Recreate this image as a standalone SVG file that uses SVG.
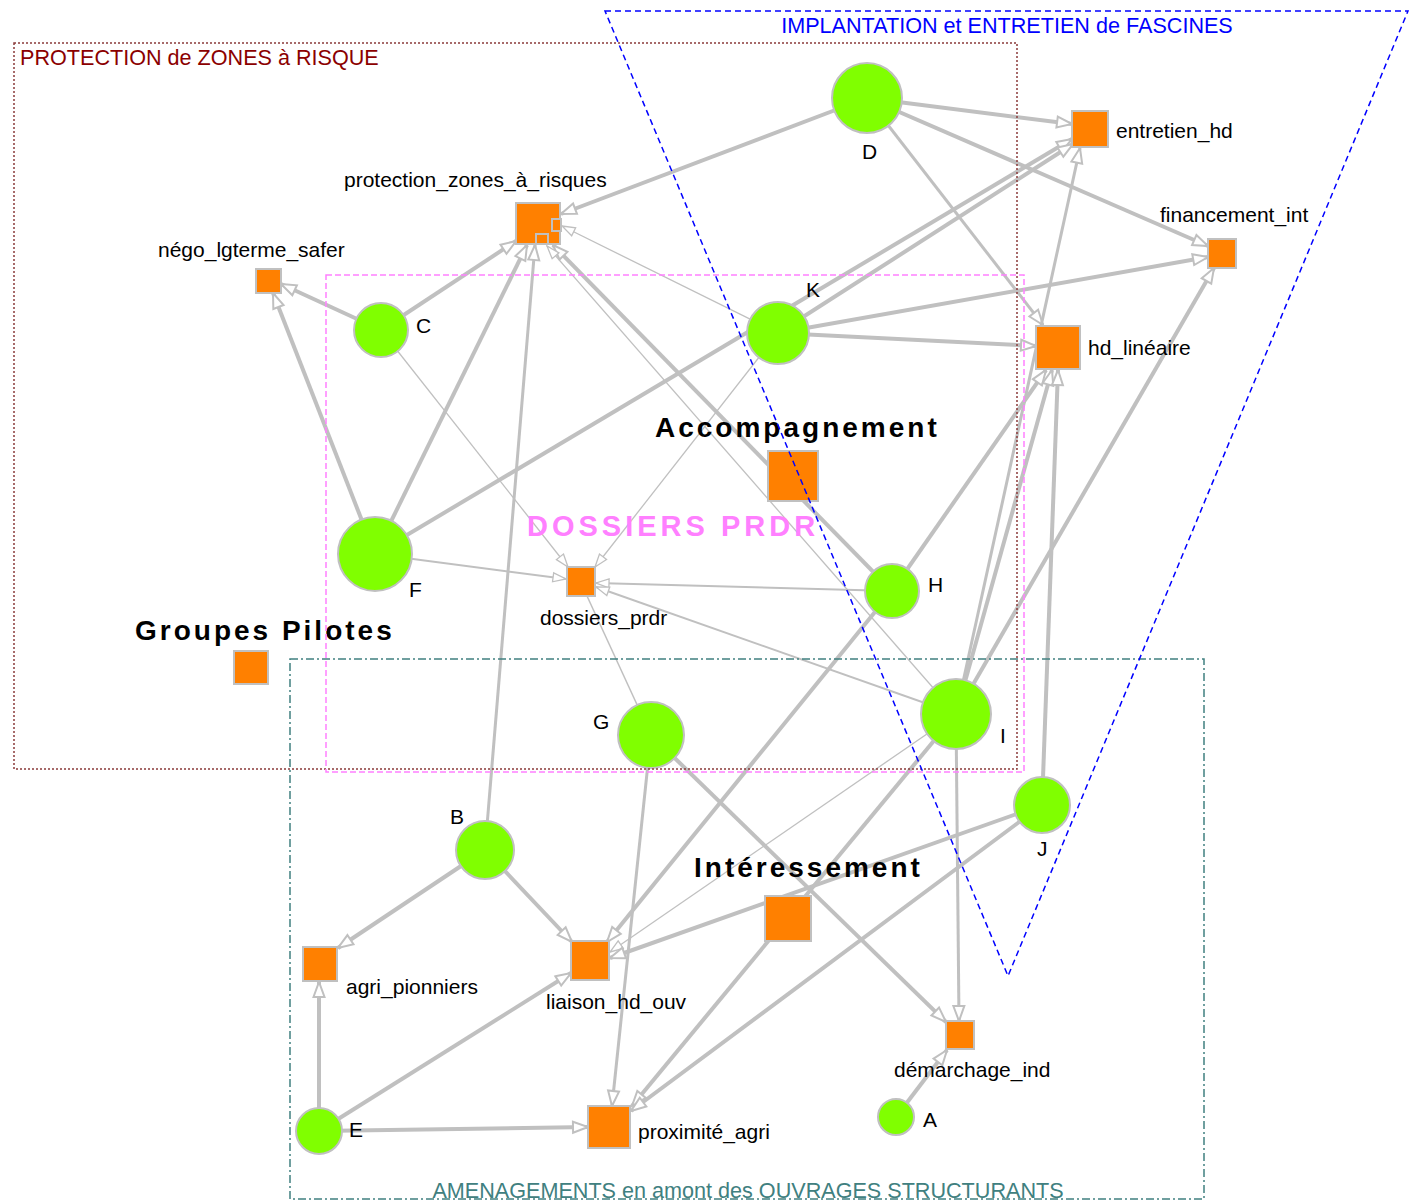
<svg xmlns="http://www.w3.org/2000/svg" width="1414" height="1201" viewBox="0 0 1414 1201">
<style>
.e{stroke:#c0c0c0;fill:none;stroke-linecap:butt}
.w4{stroke-width:4;marker-end:url(#ah)}
.w3{stroke-width:3;marker-end:url(#ah)}
.w2{stroke-width:2;marker-end:url(#at)}
.w1{stroke-width:1.3;marker-end:url(#at)}
.sq{fill:#ff8000;stroke:#c0c0c0;stroke-width:2}
.ci{fill:#80ff00;stroke:#c0c0c0;stroke-width:2}
.lb{font-family:"Liberation Sans",Arial,sans-serif;font-size:21px;fill:#000}
.big{font-family:"Liberation Sans",Arial,sans-serif;font-size:28px;font-weight:bold;letter-spacing:3px;fill:#000}
.ft{font-family:"Liberation Sans",Arial,sans-serif;font-size:21.6px}
</style>
<defs>
<marker id="ah" markerUnits="userSpaceOnUse" orient="auto" refX="0" refY="0" markerWidth="1" markerHeight="1" overflow="visible"><path d="M-15,-5.5 L0,0 L-15,5.5 Z" fill="#fff" stroke="#c0c0c0" stroke-width="2"/></marker>
<marker id="at" markerUnits="userSpaceOnUse" orient="auto" refX="0" refY="0" markerWidth="1" markerHeight="1" overflow="visible"><path d="M-13,-4.5 L0,0 L-13,4.5 Z" fill="#fff" stroke="#c0c0c0" stroke-width="1.3"/></marker>
</defs>
<rect width="1414" height="1201" fill="#fff"/>
<g id="connectors">
<line class="e w4" x1="867" y1="98" x2="561" y2="214"/>
<line class="e w4" x1="867" y1="98" x2="1072" y2="124"/>
<line class="e w4" x1="867" y1="98" x2="1208" y2="246"/>
<line class="e w3" x1="867" y1="98" x2="1043" y2="325"/>
<line class="e w4" x1="375" y1="554" x2="1072" y2="139"/>
<line class="e w4" x1="778" y1="333" x2="1073" y2="144"/>
<line class="e w4" x1="778" y1="333" x2="1208" y2="257"/>
<line class="e w4" x1="778" y1="333" x2="1036" y2="346"/>
<line class="e w1" x1="778" y1="333" x2="562" y2="226"/>
<line class="e w1" x1="778" y1="333" x2="595" y2="567"/>
<line class="e w4" x1="381" y1="330" x2="516" y2="241"/>
<line class="e w4" x1="381" y1="330" x2="281" y2="284"/>
<line class="e w1" x1="381" y1="330" x2="568" y2="567"/>
<line class="e w4" x1="375" y1="554" x2="273" y2="293"/>
<line class="e w4" x1="375" y1="554" x2="527" y2="245"/>
<line class="e w2" x1="375" y1="554" x2="566" y2="579"/>
<line class="e w3" x1="485" y1="850" x2="535" y2="245"/>
<line class="e w4" x1="892" y1="591" x2="553" y2="245"/>
<line class="e w1" x1="956" y1="714" x2="547" y2="246"/>
<line class="e w2" x1="892" y1="591" x2="596" y2="583"/>
<line class="e w4" x1="892" y1="591" x2="1046" y2="370"/>
<line class="e w4" x1="892" y1="591" x2="607" y2="942"/>
<line class="e w2" x1="956" y1="714" x2="596" y2="587"/>
<line class="e w4" x1="956" y1="714" x2="1052" y2="370"/>
<line class="e w3" x1="956" y1="714" x2="1080" y2="148"/>
<line class="e w4" x1="956" y1="714" x2="1214" y2="268"/>
<line class="e w3" x1="956" y1="714" x2="959" y2="1021"/>
<line class="e w1" x1="956" y1="714" x2="610" y2="952"/>
<line class="e w4" x1="956" y1="714" x2="632" y2="1106"/>
<line class="e w4" x1="1042" y1="805" x2="1058" y2="370"/>
<line class="e w4" x1="1042" y1="805" x2="610" y2="958"/>
<line class="e w4" x1="1042" y1="805" x2="631" y2="1111"/>
<line class="e" stroke-width="1.5" x1="651" y1="735" x2="587" y2="596"/>
<line class="e w3" x1="651" y1="735" x2="612" y2="1106"/>
<line class="e w4" x1="651" y1="735" x2="946" y2="1022"/>
<line class="e w4" x1="485" y1="850" x2="338" y2="948"/>
<line class="e w4" x1="485" y1="850" x2="572" y2="942"/>
<line class="e w4" x1="319" y1="1131" x2="319" y2="982"/>
<line class="e w4" x1="319" y1="1131" x2="571" y2="973"/>
<line class="e w4" x1="319" y1="1131" x2="588" y2="1127"/>
<line class="e w4" x1="896" y1="1117" x2="947" y2="1050"/>
</g>
<g id="n-protection_zones_a_risques"><rect class="sq" x="516" y="203" width="44" height="41"/><rect class="sq" x="552" y="219" width="9" height="12"/><rect class="sq" x="536" y="234" width="12" height="10"/><text class="lb" x="344" y="187">protection_zones_à_risques</text></g>
<g id="n-nego_lgterme_safer"><rect class="sq" x="256" y="269" width="25" height="24"/><text class="lb" x="158" y="257">négo_lgterme_safer</text></g>
<g id="n-entretien_hd"><rect class="sq" x="1072" y="111" width="36" height="36"/><text class="lb" x="1116" y="138">entretien_hd</text></g>
<g id="n-financement_int"><rect class="sq" x="1208" y="239" width="28" height="29"/><text class="lb" x="1160" y="222">financement_int</text></g>
<g id="n-hd_lineaire"><rect class="sq" x="1036" y="326" width="44" height="43"/><text class="lb" x="1088" y="355">hd_linéaire</text></g>
<g id="n-accompagnement"><rect class="sq" x="768" y="451" width="50" height="50"/><text class="big" x="655" y="437">Accompagnement</text></g>
<g id="n-dossiers_prdr"><rect class="sq" x="567" y="567" width="28" height="29"/><text class="lb" x="540" y="625">dossiers_prdr</text></g>
<g id="n-groupes_pilotes"><rect class="sq" x="234" y="651" width="34" height="33"/><text class="big" x="135" y="640">Groupes Pilotes</text></g>
<g id="n-interessement"><rect class="sq" x="765" y="896" width="46" height="45"/><text class="big" x="694" y="877">Intéressement</text></g>
<g id="n-agri_pionniers"><rect class="sq" x="303" y="947" width="34" height="34"/><text class="lb" x="346" y="994">agri_pionniers</text></g>
<g id="n-liaison_hd_ouv"><rect class="sq" x="571" y="941" width="38" height="39"/><text class="lb" x="546" y="1009">liaison_hd_ouv</text></g>
<g id="n-demarchage_ind"><rect class="sq" x="946" y="1021" width="28" height="28"/><text class="lb" x="894" y="1077">démarchage_ind</text></g>
<g id="n-proximite_agri"><rect class="sq" x="588" y="1106" width="42" height="42"/><text class="lb" x="638" y="1139">proximité_agri</text></g>
<g id="n-D"><circle class="ci" cx="867" cy="98" r="35"/><text class="lb" x="862" y="159">D</text></g>
<g id="n-K"><circle class="ci" cx="778" cy="333" r="31"/><text class="lb" x="806" y="297">K</text></g>
<g id="n-C"><circle class="ci" cx="381" cy="330" r="27"/><text class="lb" x="416" y="333">C</text></g>
<g id="n-F"><circle class="ci" cx="375" cy="554" r="37"/><text class="lb" x="409" y="597">F</text></g>
<g id="n-H"><circle class="ci" cx="892" cy="591" r="27"/><text class="lb" x="928" y="592">H</text></g>
<g id="n-G"><circle class="ci" cx="651" cy="735" r="33"/><text class="lb" x="593" y="729">G</text></g>
<g id="n-I"><circle class="ci" cx="956" cy="714" r="35"/><text class="lb" x="1000" y="743">I</text></g>
<g id="n-J"><circle class="ci" cx="1042" cy="805" r="28"/><text class="lb" x="1037" y="856">J</text></g>
<g id="n-B"><circle class="ci" cx="485" cy="850" r="29"/><text class="lb" x="450" y="824">B</text></g>
<g id="n-A"><circle class="ci" cx="896" cy="1117" r="18"/><text class="lb" x="923" y="1127">A</text></g>
<g id="n-E"><circle class="ci" cx="319" cy="1131" r="23"/><text class="lb" x="349" y="1137">E</text></g>
<g id="clusters">
<rect x="14" y="43" width="1003" height="726" fill="none" stroke="#8b3a3a" stroke-width="1.5" stroke-dasharray="2,2"/>
<text class="ft" x="20" y="65" fill="#8b0000">PROTECTION de ZONES à RISQUE</text>
<rect x="326" y="275" width="698" height="497" fill="none" stroke="#ff80ff" stroke-width="1.5" stroke-dasharray="6,3"/>
<text x="527" y="536" font-family="Liberation Sans, Arial, sans-serif" font-size="29" font-weight="bold" letter-spacing="4" fill="#ff80ff">DOSSIERS PRDR</text>
<rect x="290" y="659" width="914" height="540" fill="none" stroke="#408080" stroke-width="1.5" stroke-dasharray="8,3,2,3"/>
<text class="ft" x="748" y="1198" text-anchor="middle" fill="#408080">AMENAGEMENTS en amont des OUVRAGES STRUCTURANTS</text>
<polygon points="605,11 1408,11 1008,976" fill="none" stroke="#0000ff" stroke-width="1.5" stroke-dasharray="6,4"/>
<text class="ft" x="1007" y="33" text-anchor="middle" fill="#0000ff">IMPLANTATION et ENTRETIEN de FASCINES</text>
</g>
</svg>
